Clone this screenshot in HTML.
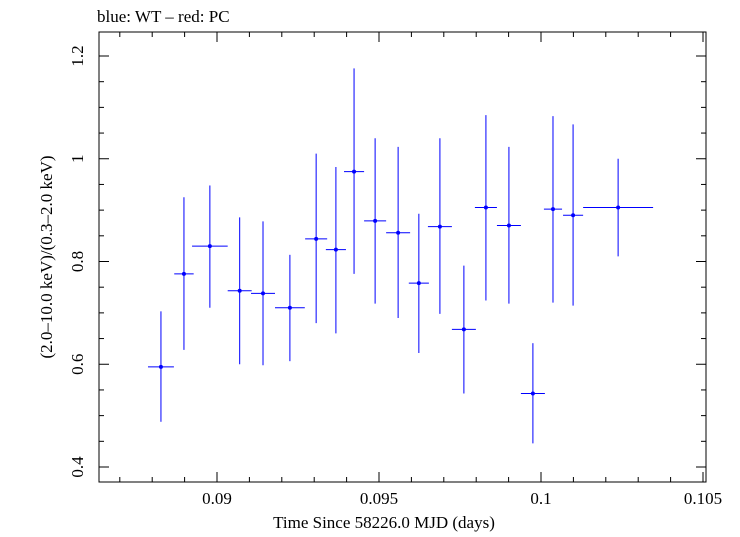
<!DOCTYPE html>
<html><head><meta charset="utf-8"><style>
body{margin:0;background:#fff}
svg text{font-family:"Liberation Serif",serif;font-size:17px;fill:#000}
</style></head><body>
<svg width="740" height="532">
<text x="97" y="22">blue: WT – red: PC</text>
<rect x="99" y="32" width="607" height="450" fill="none" stroke="#000" stroke-width="1"/>
<g id="axes"></g>
<g id="marks"></g>
<text x="384" y="528" text-anchor="middle">Time Since 58226.0 MJD (days)</text>
<text transform="translate(52,257) rotate(-90)" text-anchor="middle">(2.0–10.0 keV)/(0.3–2.0 keV)</text>
</svg>
<script>
const xTicks=[0.09,0.095,0.1,0.105];
const xTickLabels=["0.09","0.095","0.1","0.105"];
const yTicks=[0.4,0.6,0.8,1.0,1.2];
const yTickLabels=["0.4","0.6","0.8","1","1.2"];
const times=[0.08827,0.08898,0.08978,0.0907,0.09142,0.09225,0.09306,0.09367,0.09423,0.09488,0.09559,0.09623,0.09688,0.09762,0.0983,0.09901,0.09975,0.10037,0.10099,0.10238];
const timeErr=[0.0004,0.0003,0.00055,0.00037,0.00037,0.00046,0.00034,0.00031,0.00031,0.00034,0.00037,0.00031,0.00037,0.00037,0.00034,0.00037,0.00037,0.00028,0.00031,0.00108];
const ratio=[0.595,0.776,0.83,0.743,0.738,0.71,0.844,0.823,0.975,0.879,0.856,0.758,0.868,0.668,0.905,0.87,0.543,0.902,0.89,0.905];
const ratioHi=[0.703,0.925,0.948,0.886,0.878,0.813,1.01,0.984,1.176,1.04,1.023,0.893,1.04,0.792,1.085,1.023,0.641,1.083,1.067,1.0];
const ratioLo=[0.488,0.628,0.71,0.60,0.598,0.606,0.68,0.66,0.776,0.718,0.69,0.622,0.698,0.543,0.724,0.718,0.446,0.72,0.714,0.81];
const X=v=>217+(v-0.09)/0.005*162;
const Y=v=>467-(v-0.4)/0.2*102.75;
const NS="http://www.w3.org/2000/svg";
const ax=document.getElementById('axes'),mk=document.getElementById('marks');
function ln(p,x1,y1,x2,y2,c,n){const l=document.createElementNS(NS,'line');l.setAttribute('x1',x1);l.setAttribute('y1',y1);l.setAttribute('x2',x2);l.setAttribute('y2',y2);l.setAttribute('stroke',c);l.setAttribute('stroke-width',1);


p.appendChild(l);}
function tx(x,y,s,a,n){const t=document.createElementNS(NS,'text');t.setAttribute('x',x);t.setAttribute('y',y);t.setAttribute('text-anchor',a);t.textContent=s;


ax.appendChild(t);}
for(let v=0.087;v<=0.1055;v+=0.001){const x=X(v);if(x<99||x>706)continue;const maj=Math.abs(v*200-Math.round(v*200))<1e-6;const L=maj?10:5;
ln(ax,x,482,x,482-L,'#000','x-tick');ln(ax,x,32,x,32+L,'#000','x-tick-top');}
xTicks.forEach((v,i)=>tx(X(v),504,xTickLabels[i],'middle','x-tick-label'));
for(let v=0.35;v<=1.26;v+=0.05){const y=Y(v);if(y<32||y>482)continue;const maj=Math.abs(v*5-Math.round(v*5))<1e-6;const L=maj?10:5;
ln(ax,99,y,99+L,y,'#000','y-tick');ln(ax,706,y,706-L,y,'#000','y-tick-right');}
yTicks.forEach((v,i)=>{const t=document.createElementNS(NS,'text');const y=Y(v);t.setAttribute('transform',`translate(83,${y}) rotate(-90)`);t.setAttribute('text-anchor','middle');t.textContent=yTickLabels[i];


ax.appendChild(t);});
times.forEach((t,i)=>{const x=X(t),y=Y(ratio[i]);
ln(mk,X(t-timeErr[i]),y,X(t+timeErr[i]),y,'#0000ff','x-error-bar');
ln(mk,x,Y(ratioHi[i]),x,Y(ratioLo[i]),'#0000ff','y-error-bar');
const c=document.createElementNS(NS,'circle');c.setAttribute('cx',x);c.setAttribute('cy',y);c.setAttribute('r',2);c.setAttribute('fill','#0000ff');


mk.appendChild(c);});
</script>
</body></html>
